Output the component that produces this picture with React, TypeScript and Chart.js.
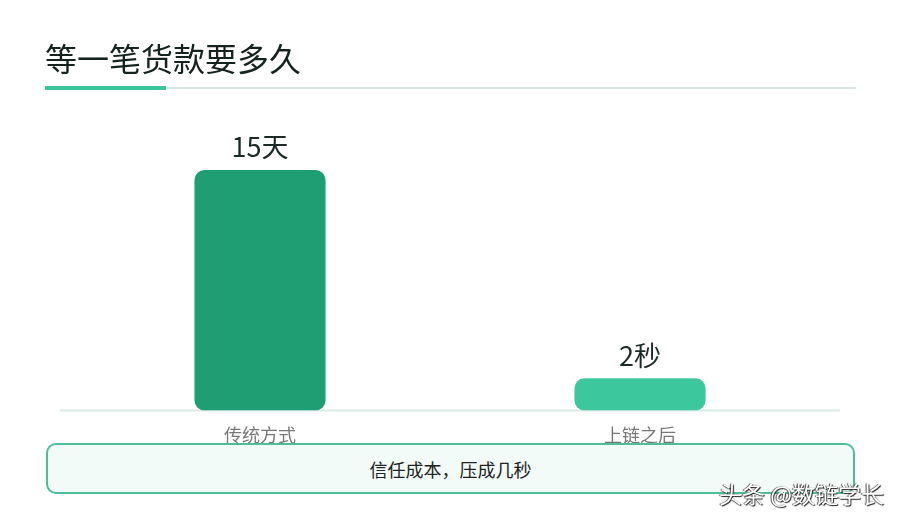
import React, { useEffect, useRef } from "react";
import { Chart, registerables } from "chart.js";

Chart.register(...registerables);

const categories = ["传统方式", "上链之后"];
const values = [15, 2];
const valueLabels = ["15天", "2秒"];
const barColors = ["#1f9e74", "#3cc79c"];
const title = "等一笔货款要多久";
const note = "信任成本，压成几秒";
const watermark = "头条 @数链学长";

const FONT = '"Noto Sans CJK SC", "Noto Sans", sans-serif';

const decorPlugin = {
  id: "decor",
  beforeDatasetsDraw(chart: any) {
    const { ctx, chartArea, scales } = chart;
    const y0 = scales.y.getPixelForValue(0);
    ctx.save();
    ctx.strokeStyle = "#dcebe5";
    ctx.lineWidth = 2;
    ctx.beginPath();
    ctx.moveTo(chartArea.left - 10, y0);
    ctx.lineTo(chartArea.right + 10, y0);
    ctx.stroke();
    ctx.restore();
  },
  afterDatasetsDraw(chart: any) {
    const { ctx } = chart;
    const meta = chart.getDatasetMeta(0);
    ctx.save();
    ctx.fillStyle = "#1d2b28";
    ctx.font = `27px ${FONT}`;
    ctx.textAlign = "center";
    ctx.textBaseline = "middle";
    meta.data.forEach((bar: any, i: number) => {
      ctx.fillText(valueLabels[i], bar.x, bar.y - 23);
    });
    ctx.restore();
  },
};

export default function App() {
  const ref = useRef<HTMLCanvasElement | null>(null);

  useEffect(() => {
    if (!ref.current) return;
    const chart = new Chart(ref.current, {
      type: "bar",
      data: {
        labels: categories,
        datasets: [
          {
            data: values,
            backgroundColor: barColors,
            borderRadius: 10,
            borderSkipped: false,
            barPercentage: 0.69,
            categoryPercentage: 0.5,
          },
        ],
      },
      options: {
        responsive: false,
        animation: false,
        layout: { padding: { left: 70, right: 70, top: 122, bottom: 60 } },
        plugins: { legend: { display: false }, tooltip: { enabled: false } },
        scales: {
          x: {
            grid: { display: false, drawTicks: false },
            border: { display: false },
            ticks: {
              padding: 14,
              color: "#777777",
              font: { family: FONT, size: 18 },
            },
          },
          y: {
            display: false,
            min: 0,
            max: 18,
          },
        },
      },
      plugins: [decorPlugin],
    });
    return () => chart.destroy();
  }, []);

  return (
    <div
      style={{
        position: "fixed",
        left: 0,
        top: 0,
        width: 900,
        height: 520,
        background: "#ffffff",
        fontFamily: FONT,
        overflow: "hidden",
      }}
    >
      <canvas ref={ref} width={900} height={520} style={{ position: "absolute", left: 0, top: 0 }} />
      <div
        style={{
          position: "absolute",
          left: 45,
          top: 35,
          fontSize: 32,
          lineHeight: "44px",
          color: "#15231f",
          whiteSpace: "nowrap",
        }}
      >
        {title}
      </div>
      <div style={{ position: "absolute", left: 165, top: 87, width: 691, height: 2, background: "#d8e5e1" }} />
      <div style={{ position: "absolute", left: 45, top: 86, width: 121, height: 4, background: "#3cc49a" }} />
      <div
        style={{
          position: "absolute",
          left: 46,
          top: 443,
          width: 809,
          height: 51,
          boxSizing: "border-box",
          border: "2px solid #4cbf99",
          borderRadius: 10,
          background: "#f2fbf7",
          display: "flex",
          alignItems: "center",
          justifyContent: "center",
          fontSize: 18,
          color: "#222222",
        }}
      >
        {note}
      </div>
      <div
        style={{
          position: "absolute",
          left: 719,
          top: 478,
          fontSize: 23,
          lineHeight: "30px",
          color: "#ffffff",
          whiteSpace: "nowrap",
          textShadow: "1px 1px 1px #222, -1px 0 1px #444",
        }}
      >
        {watermark}
      </div>
    </div>
  );
}
